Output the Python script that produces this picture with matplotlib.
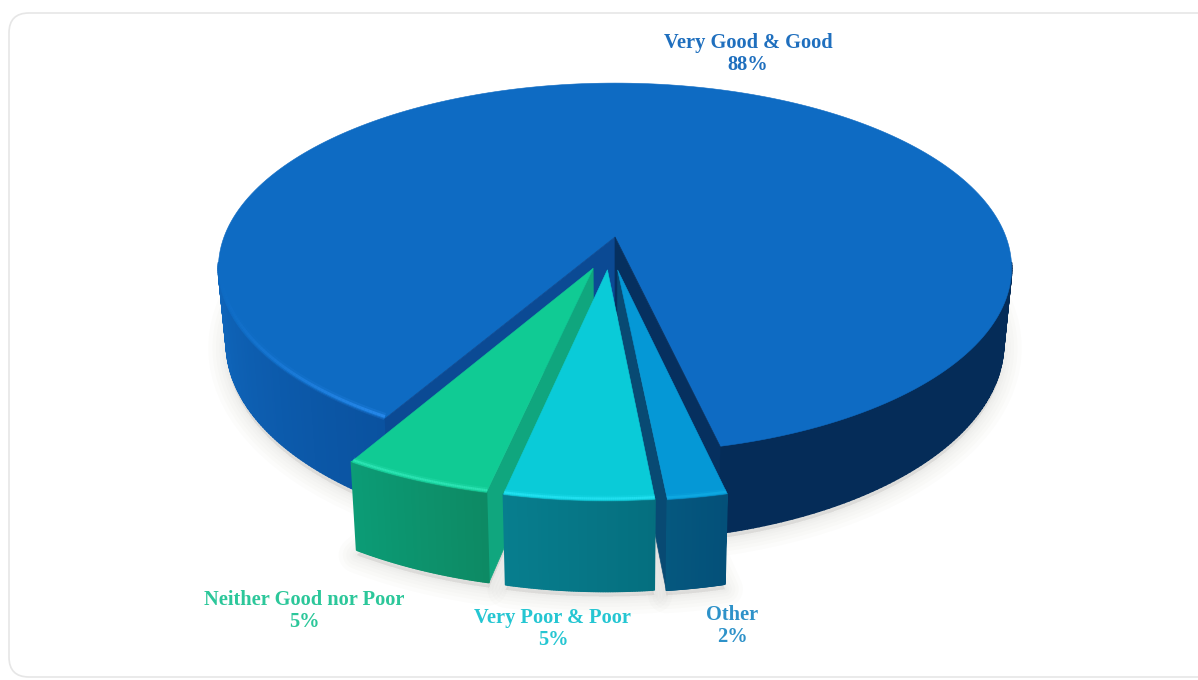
import numpy as np
import matplotlib
matplotlib.use("Agg")
import matplotlib.pyplot as plt
from matplotlib.collections import PolyCollection, LineCollection
from matplotlib.patches import FancyBboxPatch, Polygon

categories = ["Very Good & Good", "Neither Good nor Poor", "Very Poor & Poor", "Other"]
values = [88, 5, 5, 2]

top_colors = ["#0E6BC3", "#10CB94", "#0ACBD8", "#0598D6"]
text_colors = ["#1F6FBE", "#2CC79A", "#25C6D2", "#2E92C9"]
wall_left = ["#1068BE", "#0C9C76", "#077E8E", "#05587F"]
wall_right = ["#0A52A0", "#0D8A64", "#056F7F", "#045079"]
rim_colors = ["#2A8CF0", "#30E8B8", "#25E4F4", "#12AEE6"]
label_xy = [(748, 54), (304, 611), (553, 629), (732, 626)]

# pixel layout, the disc is seen in perspective so its centre sits above the ellipse middle
CX, CY = 615, 237
SCALE_X, SCALE_Y, PERSP = 391, 140, -0.1676
DROP = 73
BOTTOM_SHRINK = 0.98
START = 13.0
EXPLODE = 0.178


def project(u, v, low=False):
    s = 1 / (1 + PERSP * v)
    x = SCALE_X * u * s
    y = (CY + SCALE_Y * v) * s
    if low:
        y = y + DROP * s
        x = x * BOTTOM_SHRINK
    return CX + x, y


def rgb(c):
    return np.array(matplotlib.colors.to_rgb(c))


def arc(a0, a1, off=(0, 0), r=1.0, n=90):
    t = np.radians(np.linspace(a0, a1, n))
    return r * np.sin(t) + off[0], r * np.cos(t) + off[1]


def outer_wall(ax, a0, a1, c0, c1, off=(0, 0), z=2):
    u, v = arc(a0, a1, off)
    xt, yt = project(u, v)
    xb, yb = project(u, v, low=True)
    quads, cols = [], []
    for i in range(len(u) - 1):
        quads.append([(xt[i], yt[i]), (xt[i + 1], yt[i + 1]), (xb[i + 1], yb[i + 1]), (xb[i], yb[i])])
        f = i / (len(u) - 2)
        cols.append(rgb(c0) * (1 - f) + rgb(c1) * f)
    ax.add_collection(PolyCollection(quads, facecolors=cols, edgecolors="face", linewidths=1.2, zorder=z))


def radial_wall(ax, a, color, off=(0, 0), z=2):
    t = np.radians(a)
    u = np.array([off[0], off[0] + np.sin(t)])
    v = np.array([off[1], off[1] + np.cos(t)])
    xt, yt = project(u, v)
    xb, yb = project(u, v, low=True)
    pts = [(xt[0], yt[0]), (xt[1], yt[1]), (xb[1], yb[1]), (xb[0], yb[0])]
    ax.add_patch(Polygon(pts, closed=True, fc=color, ec=color, lw=0.5, zorder=z))


def top_face(ax, a0, a1, color, off=(0, 0), z=3):
    u, v = arc(a0, a1, off, n=240)
    x, y = project(np.r_[off[0], u], np.r_[off[1], v])
    ax.add_patch(Polygon(np.c_[x, y], closed=True, fc=color, ec=color, lw=0.4, zorder=z))


def rim(ax, a0, a1, color, off=(0, 0), z=3.5, lw=2.2, fade=False):
    u, v = arc(a0, a1, off, r=0.993, n=80)
    x, y = project(u, v)
    segs = [[(x[i], y[i]), (x[i + 1], y[i + 1])] for i in range(len(x) - 1)]
    a = np.linspace(0.05, 1, len(segs)) ** 2 if fade else np.ones(len(segs))
    # wide faint pass first so the highlight looks soft
    for width, k in [(lw * 2.6, 0.25), (lw, 0.8)]:
        cols = [(*rgb(color), q * k) for q in a]
        ax.add_collection(LineCollection(segs, colors=cols, linewidths=width, zorder=z, capstyle="butt"))


fig = plt.figure(figsize=(11.98, 6.8), dpi=100)
ax = fig.add_axes([0, 0, 1, 1])
ax.set_xlim(0, 1198)
ax.set_ylim(680, 0)
ax.axis("off")

# card runs off the right edge of the picture, only top and left borders show
card = FancyBboxPatch((9, 13), 1230, 664, boxstyle="round,pad=0,rounding_size=20",
                      fc="white", ec="#E6E6E6", lw=1.2, zorder=0)
ax.add_patch(card)

edges = START + np.r_[0, np.cumsum(values)] * 3.6
mids = (edges[:-1] + edges[1:]) / 2

# offset of each pulled out slice, the main one stays put
offs = [(0, 0)]
for m in mids[1:]:
    d = np.radians((m - 360) * 0.65 - 4)
    offs.append((EXPLODE * np.sin(d), EXPLODE * np.cos(d)))

# soft shadow under the bottom edge
for i, lw in enumerate([26, 20, 15, 10, 6, 3]):
    for k in range(len(values)):
        u, v = arc(edges[k], edges[k + 1], offs[k], n=120)
        if k > 0:
            u, v = np.r_[offs[k][0], u], np.r_[offs[k][1], v]
        x, y = project(u, v, low=True)
        ax.add_patch(Polygon(np.c_[x, y + 5], closed=True, fc="#8A8078", ec="#8A8078", lw=lw,
                             alpha=0.025, joinstyle="round", zorder=1))

# main slice, only the part of the side that faces the viewer
outer_wall(ax, edges[0], 82, "#052C58", "#052C58")
outer_wall(ax, 278, edges[1], wall_left[0], wall_right[0])
top_face(ax, edges[0], edges[1], top_colors[0])
radial_wall(ax, edges[1], "#0B4A94", z=3.2)
radial_wall(ax, edges[0], "#06305F", z=3.3)
rim(ax, 278, edges[1] - 0.3, rim_colors[0], lw=2.0, fade=True)

# pulled out slices, painted so the nearer faces cover the side walls
side_walls = {1: (edges[2], "#10A67E"), 3: (edges[3], "#084A73")}
for n, k in enumerate([1, 3, 2]):
    z = 4 + n
    if k in side_walls:
        radial_wall(ax, side_walls[k][0], side_walls[k][1], offs[k], z=z)
    outer_wall(ax, edges[k], edges[k + 1], wall_left[k], wall_right[k], offs[k], z=z)
    top_face(ax, edges[k], edges[k + 1], top_colors[k], offs[k], z=z + 0.2)
    rim(ax, edges[k], edges[k + 1], rim_colors[k], offs[k], z=z + 0.3, lw=1.6)

for name, val, col, (tx, ty) in zip(categories, values, text_colors, label_xy):
    ax.text(tx, ty, f"{name}\n{val}%", color=col, ha="center", va="center", fontsize=14.7,
            fontweight="bold", family=["Liberation Serif", "DejaVu Serif"], linespacing=1.15, zorder=10)

fig.savefig("out.png", dpi=100)
